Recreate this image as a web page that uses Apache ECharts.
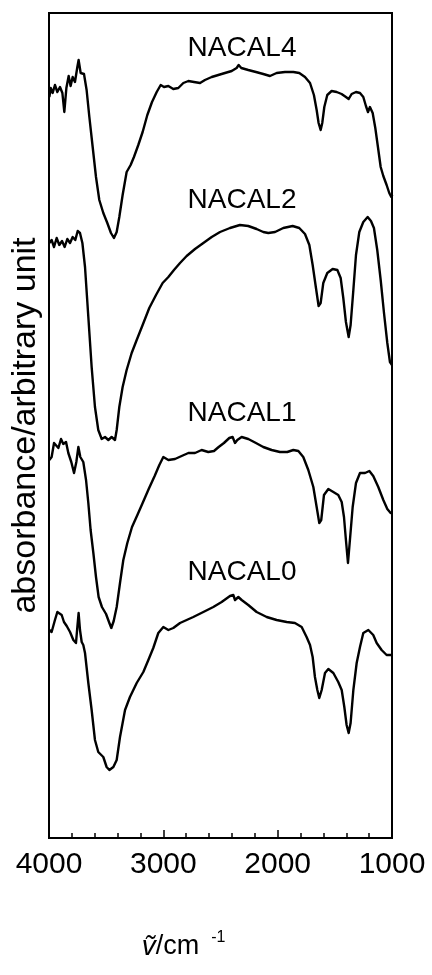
<!DOCTYPE html>
<html>
<head>
<meta charset="utf-8">
<title>IR spectra NACAL series</title>
<script src="https://cdn.jsdelivr.net/npm/echarts@6/dist/echarts.min.js"></script>
<style>
  html, body { margin: 0; padding: 0; background: #fff; }
  #chart { width: 432px; height: 975px; }
</style>
</head>
<body>
<div id="chart"></div>
<script>
// Wavenumber axis (cm^-1), drawn high to low
const xTicks = [1000, 2000, 3000, 4000];

// Sample names, top to bottom
const sampleNames = ['NACAL4', 'NACAL2', 'NACAL1', 'NACAL0'];

// Spectra as [wavenumber, absorbance (arbitrary, offset-stacked)]
const nacal4 = [
  [3997,741],[3985,750],[3968,745],[3948,753],[3927,746],[3904,751],[3883,745],[3866,726],
  [3848,750],[3828,762],[3811,752],[3793,761],[3773,756],[3752,771],[3741,778],[3723,765],
  [3694,764],[3671,748],[3647,721],[3618,691],[3589,661],[3560,638],[3525,625],[3490,615],
  [3458,605],[3432,600],[3408,606],[3385,621],[3356,643],[3321,666],[3286,673],[3257,681],
  [3219,693],[3181,706],[3140,723],[3099,736],[3058,746],[3023,753],[2994,751],[2956,752],
  [2913,749],[2869,750],[2825,755],[2781,757],[2732,756],[2679,755],[2636,758],[2577,761],
  [2519,763],[2461,765],[2402,767],[2359,770],[2341,773],[2318,770],[2257,768],[2190,766],
  [2126,764],[2067,762],[2009,765],[1936,766],[1863,766],[1811,765],[1761,761],[1717,755],
  [1683,743],[1659,728],[1642,715],[1624,708],[1610,715],[1592,731],[1566,743],[1528,747],
  [1484,746],[1441,744],[1403,741],[1379,739],[1353,744],[1315,746],[1280,745],[1251,741],
  [1228,732],[1210,726],[1193,731],[1169,725],[1146,710],[1123,691],[1099,671],[1076,662],
  [1047,653],[1024,645],[1006,641],[997,643]
];

const nacal2 = [
  [3997,595],[3977,598],[3956,591],[3933,600],[3910,593],[3886,597],[3863,591],[3840,599],
  [3816,595],[3793,601],[3770,598],[3749,607],[3729,605],[3708,595],[3685,571],[3656,521],
  [3627,471],[3598,431],[3569,408],[3539,399],[3510,401],[3481,398],[3452,401],[3423,398],
  [3408,408],[3385,431],[3356,451],[3321,468],[3277,485],[3233,498],[3181,513],[3123,530],
  [3064,543],[3006,555],[2956,561],[2907,568],[2854,575],[2796,582],[2723,589],[2650,595],
  [2577,601],[2504,606],[2417,610],[2330,613],[2257,612],[2184,609],[2126,606],[2082,605],
  [2023,606],[1951,610],[1869,612],[1811,610],[1761,604],[1723,593],[1694,573],[1665,550],
  [1642,532],[1624,535],[1601,555],[1566,565],[1519,569],[1478,568],[1449,560],[1426,540],
  [1403,516],[1379,501],[1362,513],[1338,548],[1315,583],[1286,606],[1251,616],[1213,621],
  [1184,617],[1158,610],[1129,588],[1099,558],[1070,525],[1041,495],[1018,476],[1000,473]
];

const nacal1 = [
  [3997,378],[3977,381],[3956,395],[3939,396],[3918,390],[3895,399],[3875,394],[3851,396],
  [3831,385],[3805,376],[3781,365],[3761,376],[3743,391],[3726,381],[3700,376],[3676,358],
  [3656,335],[3636,308],[3612,285],[3589,261],[3566,241],[3537,231],[3501,224],[3472,215],
  [3455,210],[3434,217],[3408,231],[3379,255],[3350,278],[3315,295],[3274,311],[3227,323],
  [3181,335],[3128,349],[3076,362],[3035,373],[3000,381],[2956,378],[2898,379],[2840,382],
  [2781,385],[2723,385],[2665,388],[2607,386],[2557,387],[2516,391],[2470,395],[2423,400],
  [2394,401],[2373,395],[2353,398],[2315,401],[2257,399],[2190,395],[2126,391],[2053,388],
  [1980,386],[1916,386],[1863,388],[1819,387],[1776,381],[1732,368],[1688,351],[1659,331],
  [1636,315],[1619,318],[1595,343],[1557,349],[1513,346],[1470,343],[1440,336],[1420,321],
  [1403,298],[1385,275],[1368,298],[1344,331],[1315,355],[1280,365],[1236,365],[1198,367],
  [1164,362],[1120,351],[1076,338],[1041,329],[1012,325],[997,325]
];

const nacal0 = [
  [3997,208],[3977,206],[3948,218],[3927,226],[3910,228],[3889,223],[3869,216],[3845,212],
  [3816,206],[3787,198],[3764,195],[3752,211],[3741,225],[3729,208],[3714,196],[3700,193],
  [3685,185],[3656,155],[3627,128],[3598,98],[3569,86],[3525,81],[3496,71],[3472,68],
  [3437,71],[3408,78],[3379,101],[3335,128],[3292,141],[3233,155],[3175,166],[3131,178],
  [3088,190],[3044,205],[3000,211],[2956,208],[2913,210],[2854,215],[2796,218],[2738,221],
  [2650,226],[2563,231],[2490,236],[2417,242],[2388,243],[2373,238],[2344,241],[2315,238],
  [2257,233],[2184,226],[2096,221],[2009,218],[1921,216],[1849,215],[1790,211],[1747,201],
  [1717,193],[1694,181],[1674,161],[1653,148],[1636,140],[1615,148],[1586,165],[1557,169],
  [1513,165],[1470,156],[1440,148],[1417,131],[1397,113],[1379,105],[1362,115],[1338,148],
  [1309,175],[1280,191],[1251,205],[1207,208],[1164,203],[1134,195],[1091,188],[1047,183],
  [1000,183]
];

const spectra = [nacal4, nacal2, nacal1, nacal0];

// Where each sample name sits, in axis units [wavenumber, absorbance]
const nameAnchors = [[2312, 790], [2312, 638], [2312, 425], [2312, 266]];

const FONT = '"Liberation Sans", Arial, Helvetica, sans-serif';

const chart = echarts.init(document.getElementById('chart'), null, { renderer: 'canvas' });

const series = spectra.map((data, i) => ({
  name: sampleNames[i],
  type: 'line',
  data: data,
  showSymbol: false,
  symbol: 'none',
  silent: true,
  animation: false,
  lineStyle: { color: '#000', width: 2.4, join: 'round' },
  markPoint: {
    symbol: 'circle',
    symbolSize: 1,
    itemStyle: { color: 'rgba(0,0,0,0)' },
    silent: true,
    animation: false,
    label: {
      show: true,
      position: 'inside',
      formatter: sampleNames[i],
      color: '#000',
      fontFamily: FONT,
      fontSize: 28
    },
    data: [{ coord: nameAnchors[i] }]
  }
}));

chart.setOption({
  backgroundColor: '#fff',
  animation: false,
  grid: {
    left: 49, right: 40, top: 13, bottom: 137,
    show: true, borderColor: '#000', borderWidth: 2, backgroundColor: 'transparent'
  },
  xAxis: {
    type: 'value',
    min: xTicks[0],
    max: xTicks[xTicks.length - 1],
    interval: 1000,
    inverse: true,
    axisLine: { show: true, lineStyle: { color: '#000', width: 2 } },
    axisTick: { show: true, inside: true, length: 8, lineStyle: { color: '#000', width: 1.5 } },
    minorTick: { show: true, splitNumber: 5, length: 5, lineStyle: { color: '#000', width: 1.5 } },
    splitLine: { show: false },
    minorSplitLine: { show: false },
    axisLabel: {
      color: '#000', fontFamily: FONT, fontSize: 30, margin: 12,
      formatter: v => String(v)
    },
    name: '{v|ṽ}{u|/cm}{s|-1}',
    nameLocation: 'middle',
    nameGap: 92,
    nameTextStyle: {
      padding: [0, 74, 0, 0],
      rich: {
        v: { fontFamily: FONT, fontSize: 28, fontStyle: 'italic', color: '#000' },
        u: { fontFamily: FONT, fontSize: 27, color: '#000' },
        s: { fontFamily: FONT, fontSize: 16, color: '#000', padding: [0, 0, 18, 12] }
      }
    }
  },
  yAxis: {
    type: 'value',
    min: 0,
    max: 825,
    axisLine: { show: true, lineStyle: { color: '#000', width: 2 } },
    axisTick: { show: false },
    axisLabel: { show: false },
    splitLine: { show: false },
    name: 'absorbance/arbitrary unit',
    nameLocation: 'middle',
    nameRotate: 90,
    nameGap: 6,
    nameTextStyle: { color: '#000', fontFamily: FONT, fontSize: 34 }
  },
  series: series
});
</script>
</body>
</html>
